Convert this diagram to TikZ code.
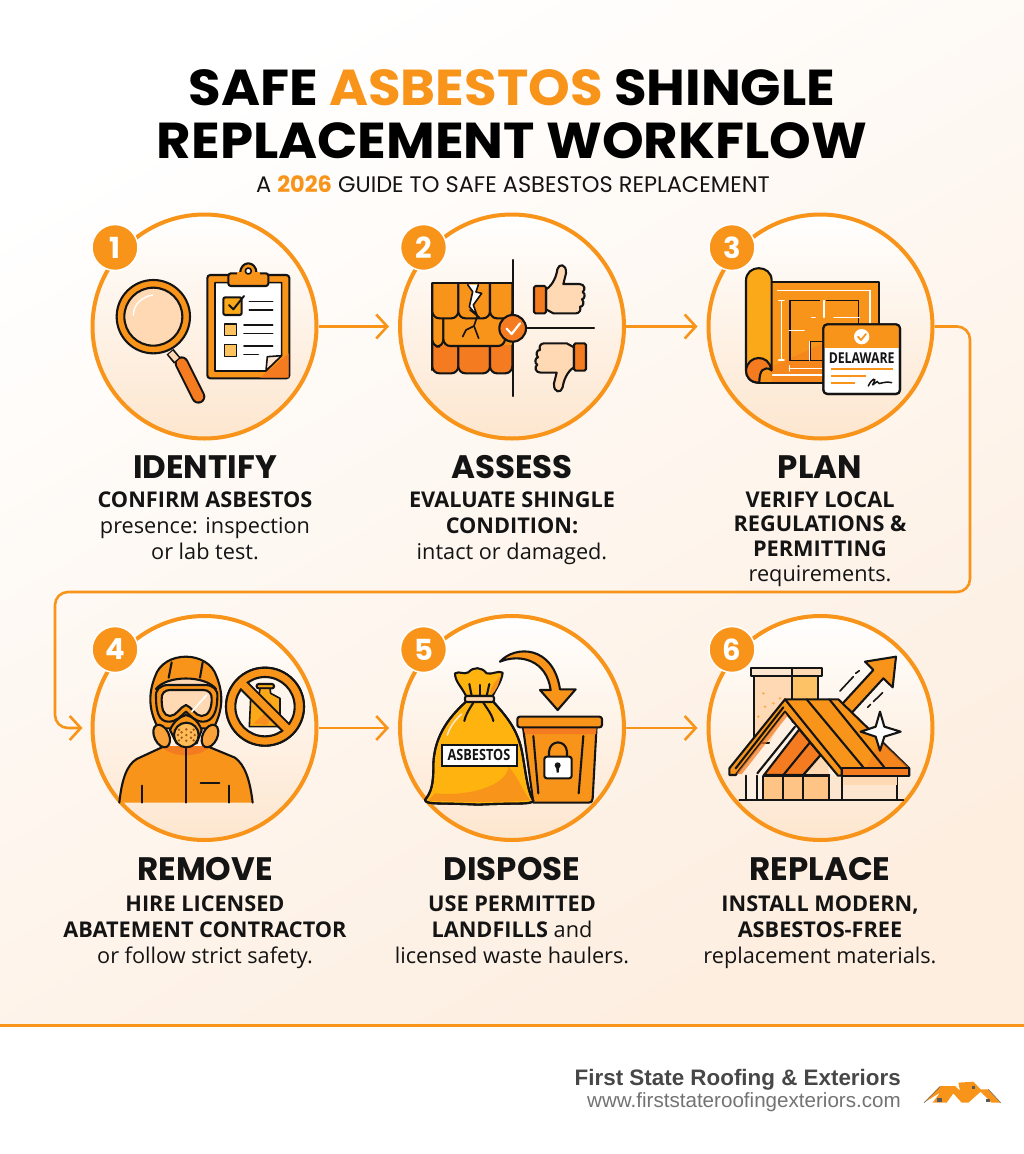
\documentclass[tikz,border=0pt]{standalone}
\usepackage{fontspec}
\usetikzlibrary{arrows.meta,calc}
\newfontfamily\popf{Poppins}
\newfontfamily\titlef{Poppins}[FakeStretch=1.05]
\newfontfamily\bodyf{Open Sans}
\newfontfamily\condf{Open Sans}[FakeStretch=0.82]
\newfontfamily\footf{Liberation Sans}
\definecolor{org}{HTML}{F8941A}
\definecolor{dorg}{HTML}{F47B20}
\definecolor{yorg}{HTML}{FBA919}
\definecolor{bago}{HTML}{FFB30F}
\definecolor{peach}{HTML}{FFD9B3}
\definecolor{lpeach}{HTML}{FDE6CF}
\definecolor{ink}{HTML}{141414}
\definecolor{bgp}{HTML}{FDEEE0}
\tikzset{
  stepcirc/.style={circle,minimum size=224pt,inner sep=0pt,draw=org,line width=4pt,top color=white,bottom color=lpeach},
  badge/.style={circle,minimum size=46pt,inner sep=0pt,fill=org,draw=white,line width=1.5pt,text=white,font=\popf\bfseries\fontsize{29}{29}\selectfont},
  arr/.style={draw=org,line width=2.6pt,line join=round,-{Straight Barb[length=11pt,width=24pt,line width=2.6pt]}},
  head/.style={font=\popf\bfseries\fontsize{32.5}{36}\selectfont,text=ink,anchor=center},
  bodytext/.style={font=\bodyf\fontsize{21.7}{26}\selectfont,text=ink,align=center,anchor=north},
  ol/.style={draw=ink,line width=2.1pt,line join=round,line cap=round},
  tl/.style={draw=ink,line width=1.6pt,line cap=round,line join=round},
  wl/.style={draw=white,line width=1.5pt,line cap=round},
  ic/.style={x=0.33333pt,y=-0.33333pt}
}
\newcommand{\shing}[5]{\draw[ol,fill=#5,rounded corners=7pt] (#1,#2) -- (#1,#4) -- (#3,#4) -- (#3,#2);}
\newcommand{\thumbhand}{%
  \draw[ol,fill=peach] (468,238) .. controls (490,225) and (500,195) .. (502,178) .. controls (506,160) and (530,160) .. (528,190) -- (520,222) -- (568,222) .. controls (585,222) and (587,240) .. (578,246) .. controls (588,250) and (584,268) .. (576,268) .. controls (584,275) and (580,292) .. (570,290) .. controls (574,300) and (568,310) .. (558,310) -- (490,310) -- (468,298) -- cycle;
  \draw[ol,fill=dorg,rounded corners=1.5pt] (432,228) rectangle (468,310);
}
\begin{document}
\begin{tikzpicture}[x=1pt,y=-1pt]
\useasboundingbox (0,0) rectangle (1024,1154);
\fill[white] (0,0) rectangle (1024,1154);
\shade[shading=axis,top color=white,middle color=white!88!bgp,bottom color=bgp,shading angle=30] (0,0) rectangle (1024,1026);

% Title
\node[font=\titlef\bfseries\fontsize{50.5}{51}\selectfont,text=black] (t1) at (512,88) {SAFE \textcolor{org}{ASBESTOS} SHINGLE};
\node[font=\titlef\bfseries\fontsize{50.5}{51}\selectfont,text=black] (t2) at (512,141) {REPLACEMENT WORKFLOW};
\node[font=\popf\fontsize{22.5}{23}\selectfont,text=ink] (st) at (513,184) {A {\bfseries\textcolor{org}{2026}} GUIDE TO SAFE ASBESTOS REPLACEMENT};

% Circles
\node[stepcirc] (c1) at (204.5,326.5) {};
\node[stepcirc] (c2) at (512,326.5) {};
\node[stepcirc] (c3) at (820.5,326.5) {};
\node[stepcirc] (c4) at (204.5,728) {};
\node[stepcirc] (c5) at (512,728) {};
\node[stepcirc] (c6) at (820.5,728) {};

% Connectors
\draw[arr,shorten >=9pt] (c1) -- (c2);
\draw[arr,shorten >=9pt] (c2) -- (c3);
\draw[arr,shorten >=9pt] (c4) -- (c5);
\draw[arr,shorten >=9pt] (c5) -- (c6);
\coordinate (w1) at (970,326.5);
\coordinate (w2) at (970,592);
\coordinate (w3) at (55,592);
\coordinate (w4) at (55,728);
\draw[arr,rounded corners=13pt,shorten >=8pt] (c3.east) -- (w1) -- (w2) -- (w3) -- (w4) -- (c4.west);

% ICON 1
\begin{scope}[shift={(80,210)},ic]
  \draw[line width=14pt,ink,line cap=round] (305,460) -- (355,560);
  \draw[line width=10pt,dorg,line cap=round] (305,460) -- (355,560);
  \draw[line width=9pt,ink] (270,425) -- (292,452);
  \draw[line width=5.5pt,peach] (272,428) -- (290,449);
  \draw[ol,fill=org] (220,320) circle[radius=110];
  \draw[ol,fill=peach] (220,320) circle[radius=87];
  \draw[white,line width=1.4pt,line cap=round] (160,315) .. controls (160,285) and (185,260) .. (218,255);
  \draw[ol,fill=org,rounded corners=3pt] (382,195) rectangle (628,505);
  \fill[dorg] (626,503) -- (540,503) -- (626,430) -- cycle;
  \draw[tl,fill=white] (405,218) -- (605,218) -- (605,435) -- (557,483) -- (405,483) -- cycle;
  \draw[tl,fill=lpeach] (605,437) -- (562,440) -- (558,482) -- cycle;
  \draw[ol,fill=org,rounded corners=2.5pt] (445,190) rectangle (565,228);
  \draw[ol,fill=org] (480,190) .. controls (482,150) and (528,150) .. (530,190) -- cycle;
  \fill[org] (470,187) rectangle (540,195);
  \draw[tl,fill=white] (505,183) circle[radius=9];
  \draw[ol,fill=yorg,rounded corners=2pt] (430,262) rectangle (485,315);
  \draw[line width=2pt,ink,line cap=round,line join=round] (447,285) -- (460,298) -- (492,258);
  \foreach \a/\b/\c in {508/578/275,508/578/300,492/578/345,492/578/370,492/578/408,492/535/433}
    \draw[tl] (\a,\c) -- (\b,\c);
  \draw[tl,fill=yorg!70!white] (433,342) rectangle (470,377);
  \draw[tl,fill=yorg!70!white] (433,403) rectangle (470,440);
\end{scope}

% ICON 2
\begin{scope}[shift={(390,210)},ic]
  \fill[org] (127,220) rectangle (367,420);
  \fill[dorg] (127,410) rectangle (367,470);
  \shing{127}{405}{205}{490}{dorg}
  \shing{205}{405}{300}{490}{dorg}
  \shing{300}{405}{367}{490}{dorg}
  \shing{127}{325}{160}{410}{org}
  \shing{160}{325}{345}{408}{org}
  \shing{127}{220}{205}{325}{org}
  \shing{205}{220}{300}{325}{org}
  \shing{300}{220}{367}{325}{org}
  \draw[ol] (127,220) -- (367,220);
  \draw[ol] (127,220) -- (127,480);
  \draw[tl,fill=white] (233,224) -- (248,245) -- (238,290) -- (262,318) -- (250,285) -- (275,250) -- (258,246) -- (265,224);
  \draw[tl] (262,318) -- (252,348) -- (228,360) -- (218,380);
  \draw[tl] (252,348) -- (266,385);
  \draw[tl] (240,300) -- (268,322);
  \draw[ol] (368,150) -- (368,558);
  \draw[ol] (405,355) -- (612,355);
  \draw[ol,fill=dorg] (368,355) circle[radius=40];
  \draw[white,line width=2.2pt,line cap=round,line join=round] (350,356) -- (365,372) -- (390,340);
  \thumbhand
  \begin{scope}[shift={(1020,710)},xscale=-1,yscale=-1]
    \thumbhand
  \end{scope}
\end{scope}

% ICON 3
\begin{scope}[shift={(700,210)},ic]
  \draw[ol,fill=org] (175,217) -- (538,217) -- (538,518) -- (175,518) -- cycle;
  \fill[dorg,opacity=.5] (215,516) -- (370,516) -- (370,400) -- (215,470) -- cycle;
  \draw[white,line width=1.5pt] (232,242) -- (510,242) -- (510,345);
  \draw[wl] (244,272) -- (244,450);
  \draw[wl] (236,272) -- (252,272);
  \draw[wl] (236,450) -- (252,450);
  \draw[wl] (268,467) -- (268,483);
  \draw[wl] (268,475) -- (372,475);
  \draw[wl] (218,495) -- (372,495);
  \draw[ink,line width=1.6pt] (378,272) -- (475,272) -- (475,345);
  \draw[ink,line width=1.6pt] (360,272) -- (270,272) -- (270,452) -- (372,452);
  \draw[ink,line width=1.6pt] (332,450) -- (332,395) -- (372,395);
  \draw[wl] (372,272) -- (372,322);
  \draw[wl] (402,322) -- (478,322);
  \draw[wl] (335,322) -- (345,322);
  \draw[wl] (268,362) -- (312,362);
  \draw[wl] (328,395) -- (328,450);
  % roll
  \draw[ol,fill=yorg] (138,480) -- (138,212) .. controls (138,162) and (215,162) .. (215,212) -- (215,480) -- (175,518) .. controls (150,518) and (138,500) .. (138,480) -- cycle;
  \fill[org] (177,516) -- (214,516) -- (214,484) -- (175,470) -- cycle;
  \draw[ol,fill=dorg] (138,482) .. controls (142,432) and (208,432) .. (213,478) .. controls (190,470) and (178,480) .. (178,518) .. controls (150,518) and (138,500) .. (138,482) -- cycle;
  \draw[ol] (178,518) -- (375,518);
  % card
  \draw[ol,fill=white,rounded corners=4pt] (370,343) rectangle (600,552);
  \fill[org,rounded corners=3.5pt] (372,345) rectangle (598,390);
  \fill[org] (372,380) rectangle (598,413);
  \draw[ol,rounded corners=4pt] (370,343) rectangle (600,552);
  \fill[white] (485,380) circle[radius=23];
  \draw[org,line width=1.8pt,line cap=round,line join=round] (474,380) -- (483,390) -- (498,372);
  \node[font=\condf\bfseries\fontsize{15}{15}\selectfont,text=ink,inner sep=0pt] (dw) at (485,445) {DELAWARE};
  \draw[org,line width=1.7pt] (393,477) -- (578,477);
  \draw[org,line width=1.7pt] (393,497) -- (497,497);
  \draw[org,line width=1.7pt] (393,519) -- (465,519);
  \draw[ink,line width=1.5pt,line cap=round] (505,528) .. controls (515,505) and (532,500) .. (520,520) .. controls (512,535) and (535,505) .. (535,518) .. controls (535,526) and (550,512) .. (575,518);
\end{scope}

% ICON 4
\begin{scope}[shift={(80,610)},ic]
  \fill[org] (118,578) .. controls (125,510) and (140,465) .. (170,447) -- (250,410) -- (385,410) -- (465,443) .. controls (495,465) and (510,510) .. (518,578) -- cycle;
  \fill[dorg] (245,408) .. controls (270,445) and (365,445) .. (390,408) -- cycle;
  \draw[ol] (118,578) .. controls (125,510) and (140,465) .. (170,447) -- (250,410);
  \draw[ol] (385,410) -- (465,443) .. controls (495,465) and (510,510) .. (518,578);
  \draw[ol] (318,415) -- (318,578);
  \draw[ol] (187,527) -- (187,578);
  \draw[ol] (447,527) -- (447,578);
  \draw[ol] (362,520) -- (418,520);
  \draw[ol,fill=org] (235,355) .. controls (205,300) and (205,250) .. (225,200) .. controls (250,120) and (385,120) .. (410,200) .. controls (430,250) and (430,300) .. (400,355) -- cycle;
  \draw[ol] (275,157) -- (266,203);
  \draw[ol] (368,157) -- (360,203);
  \draw[ol,fill=peach] (228,237) .. controls (260,195) and (375,195) .. (408,237) -- cycle;
  \draw[ol,fill=org] (228,262) .. controls (225,240) and (240,225) .. (265,225) -- (375,225) .. controls (400,225) and (415,240) .. (412,262) .. controls (412,300) and (400,335) .. (370,335) .. controls (345,335) and (335,320) .. (318,305) .. controls (300,320) and (290,335) .. (265,335) .. controls (235,335) and (228,300) .. (228,262) -- cycle;
  \draw[ol,fill=peach] (245,268) .. controls (243,250) and (255,240) .. (270,240) -- (370,240) .. controls (385,240) and (397,250) .. (395,268) .. controls (395,295) and (385,318) .. (365,318) .. controls (345,318) and (335,290) .. (318,285) .. controls (300,290) and (290,318) .. (270,318) .. controls (250,318) and (245,295) .. (245,268) -- cycle;
  \draw[white,line width=1.7pt,line cap=round] (335,305) -- (380,255);
  \draw[ol,fill=org] (270,360) .. controls (280,335) and (300,320) .. (318,315) .. controls (340,320) and (355,335) .. (365,360) -- (350,400) -- (290,400) -- cycle;
  \draw[ol,fill=org!80!peach,rotate around={25:(245,378)}] (245,378) ellipse[x radius=22,y radius=36];
  \draw[ol,fill=org!80!peach,rotate around={-25:(390,378)}] (390,378) ellipse[x radius=22,y radius=36];
  \draw[ol,fill=yorg!60!peach] (319,375) circle[radius=37];
  \foreach \dx/\dy in {0/0,-14/-8,14/-8,-14/8,14/8,0/-17,0/17,-25/0,25/0,-22/-16,22/-16,-22/16,22/16}
    \fill[dorg!70!black] ($(319,375)+(\dx,\dy)$) circle[radius=4];
  \draw[ol,fill=white!60!lpeach] (555,290) circle[radius=117];
  \draw[ol,fill=yorg,rounded corners=2pt] (530,222) rectangle (582,235);
  \draw[tl,fill=yorg] (540,235) -- (570,235) -- (572,250) -- (600,265) -- (600,350) -- (508,350) -- (512,265) -- (538,250) -- cycle;
  \fill[dorg!60!yorg] (520,340) .. controls (545,320) and (565,300) .. (570,270) -- (585,310) -- (560,345) -- cycle;
  \draw[line width=8pt,org] (555,290) circle[radius=103];
  \draw[ol] (555,290) circle[radius=117];
  \draw[ol] (555,290) circle[radius=89];
  \draw[line width=11.5pt,ink,line cap=butt] (492,227) -- (618,353);
  \draw[line width=7.5pt,org,line cap=butt] (486,221) -- (624,359);
\end{scope}

% ICON 5
\begin{scope}[shift={(390,610)},ic]
  \draw[ol,fill=org] (398,345) -- (620,345) -- (608,565) .. controls (606,578) and (600,578) .. (595,578) -- (430,578) -- cycle;
  \fill[dorg] (400,350) -- (620,350) -- (618,372) -- (405,372) -- cycle;
  \draw[ol] (430,378) -- (445,550);
  \draw[ol] (580,378) -- (566,550);
  \draw[ol,fill=org,rounded corners=2.5pt] (382,320) rectangle (636,352);
  \draw[ol,fill=white,rounded corners=2.5pt] (463,440) rectangle (545,505);
  \draw[line width=2.1pt,ink] (477,440) -- (477,425) .. controls (480,388) and (528,388) .. (531,425) -- (531,440);
  \fill[ink] (503,466) circle[radius=9];
  \fill[ink] (498,468) -- (508,468) -- (506,488) -- (500,488) -- cycle;
  % bag
  \draw[ol,fill=bago] (228,275) .. controls (190,310) and (130,370) .. (130,470) .. controls (130,520) and (125,545) .. (105,570) .. controls (108,585) and (150,578) .. (265,584) .. controls (380,578) and (425,585) .. (430,572) .. controls (412,545) and (405,470) .. (395,420) .. controls (380,350) and (340,310) .. (310,275) -- cycle;
  \fill[org] (135,550) .. controls (230,560) and (350,530) .. (355,470) .. controls (385,500) and (390,530) .. (420,570) .. controls (320,580) and (200,575) .. (115,572) -- cycle;
  \draw[ol] (228,275) .. controls (190,310) and (130,370) .. (130,470) .. controls (130,520) and (125,545) .. (105,570) .. controls (108,585) and (150,578) .. (265,584) .. controls (380,578) and (425,585) .. (430,572) .. controls (412,545) and (405,470) .. (395,420) .. controls (380,350) and (340,310) .. (310,275);
  \draw[white!30!peach,line width=1.6pt,line cap=round] (172,375) .. controls (180,350) and (195,330) .. (215,312);
  \draw[ol,fill=bago] (228,258) .. controls (215,230) and (195,215) .. (195,190) .. controls (210,182) and (220,195) .. (235,187) .. controls (250,170) and (275,170) .. (290,190) .. controls (305,195) and (325,180) .. (338,188) .. controls (335,215) and (318,235) .. (308,258) -- cycle;
  \fill[org] (300,245) .. controls (310,220) and (320,210) .. (333,195) .. controls (325,230) and (318,240) .. (305,255) -- cycle;
  \draw[ol] (245,258) -- (238,222);
  \draw[ol] (270,258) -- (270,225);
  \draw[ol] (290,258) -- (298,222);
  \draw[ol,fill=peach,rounded corners=2pt] (225,258) rectangle (312,276);
  \draw[ol] (250,278) .. controls (240,295) and (228,310) .. (223,333);
  \draw[ol] (280,278) .. controls (290,295) and (305,310) .. (310,333);
  \node[draw=ink,line width=2pt,fill=white,minimum width=75pt,minimum height=21pt,inner sep=0pt,font=\condf\bfseries\fontsize{15.5}{16}\selectfont,text=ink] (asb) at (267,436) {ASBESTOS};
  % arrow
  \draw[ol,fill=org] (330,155) .. controls (375,105) and (490,105) .. (510,238) -- (557,238) -- (503,300) -- (450,240) -- (482,240) .. controls (470,150) and (390,130) .. (330,155) -- cycle;
\end{scope}

% ICON 6
\begin{scope}[shift={(700,610)},ic]
  \draw[ol,fill=peach] (163,198) rectangle (275,400);
  \draw[ol,fill=yorg!50!peach] (275,198) rectangle (355,300);
  \draw[ol,fill=lpeach] (152,175) rectangle (275,198);
  \draw[ol,fill=peach] (275,175) rectangle (367,198);
  \foreach \p/\q in {190/250,175/320,220/280,195/290,240/265}
    \fill[org!70!peach] (\p,\q) circle[radius=4];
  % arrow
  \draw[ol,fill=org] (410,300) -- (520,180) -- (495,155) -- (588,140) -- (578,232) -- (550,205) -- (440,325) -- cycle;
  \draw[tl] (420,243) -- (460,200);
  \draw[tl] (467,190) -- (478,182);
  \draw[tl] (520,275) -- (548,248);
  \draw[tl] (503,292) -- (512,283);
  % walls
  \fill[white!40!lpeach] (135,495) rectangle (190,570);
  \draw[ol,fill=lpeach] (425,497) rectangle (592,570);
  \fill[peach] (427,499) rectangle (590,525);
  \draw[ol,fill=peach!70!org] (190,497) rectangle (388,570);
  \fill[lpeach] (389,497) rectangle (424,569);
  \draw[ol] (250,497) -- (250,570);
  \draw[ol] (310,497) -- (310,570);
  \draw[ol] (137,497) -- (137,570);
  \draw[ol] (172,490) -- (172,570);
  \draw[ol] (388,497) -- (388,570);
  \draw[ol] (425,497) -- (425,570);
  \draw[ol] (118,570) -- (610,570);
  % right roof
  \draw[ol,fill=org] (255,268) -- (415,268) -- (628,475) -- (628,497) -- (425,497) -- cycle;
  \fill[dorg,opacity=.6] (500,472) -- (626,472) -- (540,392) -- cycle;
  \draw[ol,fill=dorg] (425,475) -- (628,475) -- (628,497) -- (425,497) -- cycle;
  \draw[ol] (320,268) -- (490,472);
  \draw[ol] (388,268) -- (553,472);
  % gable interior
  \fill[white!40!lpeach] (160,495) -- (255,310) -- (400,495) -- cycle;
  \draw[ol,fill=dorg] (192,495) -- (298,358) -- (362,435) -- (310,495) -- cycle;
  \fill[peach] (312,494) -- (362,437) -- (385,470) -- (387,494) -- cycle;
  \draw[ol] (172,490) -- (285,350);
  \draw[ol] (250,495) -- (330,397);
  \draw[ol] (310,495) -- (362,435);
  \draw[ol] (192,495) -- (388,495);
  % gable rafter
  \draw[ol,fill=org] (88,475) -- (255,268) -- (425,478) -- (425,497) -- (414,497) -- (255,305) -- (107,495) -- (88,495) -- cycle;
  \fill[dorg,opacity=.7] (110,491) -- (255,308) -- (262,318) -- (125,493) -- cycle;
  \draw[ol] (107,475) -- (250,292);
  \draw[ol,fill=white] (540,305) -- (553,350) -- (602,365) -- (553,380) -- (540,422) -- (527,380) -- (482,365) -- (527,350) -- cycle;
\end{scope}

% Badges
\node[badge] (n1) at (115,247.5) {1};
\node[badge] (n2) at (423.5,247.5) {2};
\node[badge] (n3) at (732,247.5) {3};
\node[badge] (n4) at (115,649.5) {4};
\node[badge] (n5) at (423.5,649.5) {5};
\node[badge] (n6) at (732,649.5) {6};

% Headings and text
\node[head] (h1) at (205,467) {IDENTIFY};
\node[head] (h2) at (512,467) {ASSESS};
\node[head] (h3) at (820,467) {PLAN};
\node[head] (h4) at (205,869) {REMOVE};
\node[head] (h5) at (512,869) {DISPOSE};
\node[head] (h6) at (820,869) {REPLACE};
\node[bodytext] (b1) at (205,488.5) {\textbf{CONFIRM ASBESTOS}\\presence: inspection\\or lab test.};
\node[bodytext] (b2) at (512,488.5) {\textbf{EVALUATE SHINGLE}\\\textbf{CONDITION:}\\intact or damaged.};
\node[bodytext,font=\bodyf\fontsize{21.7}{24.7}\selectfont] (b3) at (820,488) {\textbf{VERIFY LOCAL}\\\textbf{REGULATIONS \&}\\\textbf{PERMITTING}\\requirements.};
\node[bodytext] (b4) at (205,892) {\textbf{HIRE LICENSED}\\\textbf{ABATEMENT CONTRACTOR}\\or follow strict safety.};
\node[bodytext] (b5) at (512,892) {\textbf{USE PERMITTED}\\\textbf{LANDFILLS} and\\licensed waste haulers.};
\node[bodytext] (b6) at (820,892) {\textbf{INSTALL MODERN,}\\\textbf{ASBESTOS-FREE}\\replacement materials.};

% Footer
\fill[white] (0,1026) rectangle (1024,1154);
\draw[org,line width=3pt] (0,1025.5) -- (1024,1025.5);
\node[font=\footf\bfseries\fontsize{22.4}{24}\selectfont,text=black!72,anchor=east,inner sep=0pt] (f1) at (901,1080) {First State Roofing \& Exteriors};
\node[font=\footf\fontsize{20.6}{21}\selectfont,text=black!55,anchor=east,inner sep=0pt] (f2) at (901,1102) {www.firststateroofingexteriors.com};
\begin{scope}[shift={(560,1050)},ic]
  \fill[org] (1092,158) -- (1140,108) -- (1185,108) -- (1200,122) -- (1195,98) -- (1240,95) -- (1262,118) -- (1285,118) -- (1322,158) -- (1295,158) -- (1262,125) -- (1225,158) -- (1205,158) -- (1180,130) -- (1160,158) -- (1118,158) -- (1140,128) -- cycle;
  \draw[black!60,line width=.5pt] (1092,158) -- (1140,110);
  \draw[black!60,line width=.5pt] (1285,118) -- (1322,158);
  \fill[black!65] (1130,145) rectangle (1145,157);
  \fill[black!65] (1277,147) rectangle (1291,157);
  \fill[black!65] (1236,108) rectangle (1245,117);
\end{scope}
\end{tikzpicture}
\end{document}
